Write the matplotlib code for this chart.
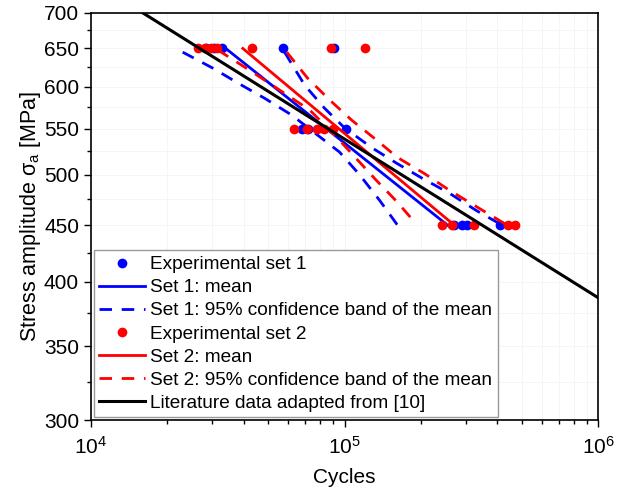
import numpy as np
import matplotlib
matplotlib.use('Agg')
import matplotlib.pyplot as plt
from matplotlib.ticker import FixedLocator, NullFormatter, LogLocator

plt.rcParams['font.family'] = ['Liberation Sans', 'DejaVu Sans']
plt.rcParams['mathtext.fontset'] = 'custom'
plt.rcParams['mathtext.rm'] = 'Liberation Sans'
plt.rcParams['mathtext.it'] = 'Liberation Sans'
plt.rcParams['mathtext.default'] = 'regular'

# experimental points (cycles to failure) per stress level
set1_650 = [28500, 30500, 32800, 57000, 91000]
set1_550 = [68000, 72000, 101000]
set1_450 = [270000, 291000, 305000, 410000]
set2_650 = [26400, 28200, 29800, 31500, 43000, 88500, 120000]
set2_550 = [63000, 71000, 78000, 83000, 90000]
set2_450 = [243000, 266000, 325000, 440000, 470000]

# mean curves
set1_mean_N = [34000, 255000]
set1_mean_S = [650, 450]
set2_mean_N = [39700, 271000]
set2_mean_S = [650, 450]

# 95% confidence bands
set1_low_N = [23000, 30200, 37900, 48400, 61800, 95500, 114500, 137400, 161800]
set1_low_S = [645, 624, 605, 586, 566, 524, 500, 474, 450]
set1_up_N = [58000, 69700, 83400, 100000, 127700, 160300, 202900, 259000, 330800, 418600]
set1_up_S = [645, 602, 574, 551, 529, 512, 496, 481, 464, 450]
set2_low_N = [31600, 42300, 55500, 72800, 91300, 109500, 132400, 160300, 192000]
set2_low_S = [648, 621, 596, 572, 543, 519, 495, 473, 451]
set2_up_N = [59200, 71500, 87300, 106600, 131300, 161900, 206700, 259000, 324800, 438000]
set2_up_S = [645, 611, 584, 560, 539, 518, 501, 484, 469, 450]

# literature line
lit_N = [16000, 1e6]
lit_S = [700, 387]

yticks = [300, 350, 400, 450, 500, 550, 600, 650, 700]
yminor = [325, 375, 425, 475, 525, 575, 625, 675]

blue = '#0000ff'
red = '#ff0000'

fig = plt.figure(figsize=(6.27, 4.92), dpi=100)
ax = fig.add_axes([0.145, 0.146, 0.809, 0.828])

def pts(a, b, c):
    n = a + b + c
    s = [650] * len(a) + [550] * len(b) + [450] * len(c)
    return n, s

n1, s1 = pts(set1_650, set1_550, set1_450)
n2, s2 = pts(set2_650, set2_550, set2_450)

dash = (4.5, 3.5)
ax.plot(n1, s1, 'o', color=blue, ms=7, mec='none', label='Experimental set 1')
ax.plot(set1_mean_N, set1_mean_S, '-', color=blue, lw=2, label='Set 1: mean')
ax.plot(set1_low_N, set1_low_S, '--', color=blue, lw=2, dashes=dash,
        label='Set 1: 95% confidence band of the mean')
ax.plot(set1_up_N, set1_up_S, '--', color=blue, lw=2, dashes=dash)
ax.plot(n2, s2, 'o', color=red, ms=7, mec='none', label='Experimental set 2')
ax.plot(set2_mean_N, set2_mean_S, '-', color=red, lw=2, label='Set 2: mean')
ax.plot(set2_low_N, set2_low_S, '--', color=red, lw=2, dashes=dash,
        label='Set 2: 95% confidence band of the mean')
ax.plot(set2_up_N, set2_up_S, '--', color=red, lw=2, dashes=dash)
ax.plot(lit_N, lit_S, '-', color='black', lw=2.2, label='Literature data adapted from [10]')

ax.set_xscale('log')
ax.set_yscale('log')
ax.set_xlim(1e4, 1e6)
ax.set_ylim(300, 700)
ax.yaxis.set_major_locator(FixedLocator(yticks))
ax.yaxis.set_minor_locator(FixedLocator(yminor))
ax.set_yticklabels([str(v) for v in yticks])
ax.yaxis.set_minor_formatter(NullFormatter())
ax.xaxis.set_minor_locator(LogLocator(base=10, subs=np.arange(2, 10)))
ax.xaxis.set_minor_formatter(NullFormatter())

ax.tick_params(which='major', direction='out', length=5, width=1, labelsize=15)
ax.tick_params(axis='x', which='major', pad=6)
ax.tick_params(which='minor', direction='out', length=3, width=1)
for sp in ax.spines.values():
    sp.set_linewidth(1.2)

ax.grid(True, which='both', color='#f4f4f4', lw=0.6)
ax.set_axisbelow(True)

ax.set_xlabel('Cycles', fontsize=15, labelpad=8)
ax.set_ylabel(r'Stress amplitude $\sigma_a$ [MPa]', fontsize=15.5, labelpad=1)

leg = ax.legend(loc='lower left', fontsize=13.7, handlelength=2.4, handletextpad=0.25,
                labelspacing=0.3, borderaxespad=0.15, borderpad=0.3,
                fancybox=False, edgecolor='#999999', framealpha=1)
leg.get_frame().set_linewidth(1)

fig.savefig('out.png', dpi=100)
